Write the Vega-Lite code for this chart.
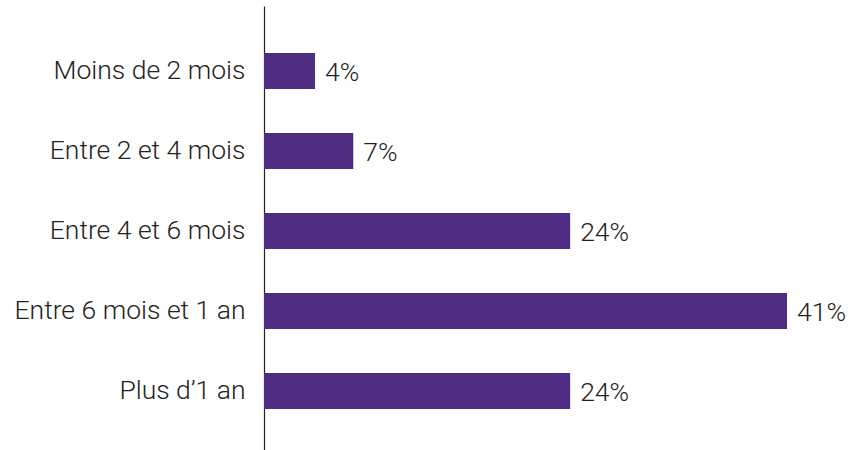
{
  "$schema": "https://vega.github.io/schema/vega-lite/v6.json",
  "width": 523,
  "height": 450,
  "autosize": {"type": "none"},
  "padding": {"left": 264, "top": 6, "right": 68, "bottom": 0},
  "background": "white",
  "config": {"view": {"stroke": null}, "font": "Roboto"},
  "data": {"values": [
    {"cat": "Moins de 2 mois", "value": 4, "label": "4%"},
    {"cat": "Entre 2 et 4 mois", "value": 7, "label": "7%"},
    {"cat": "Entre 4 et 6 mois", "value": 24, "label": "24%"},
    {"cat": "Entre 6 mois et 1 an", "value": 41, "label": "41%"},
    {"cat": "Plus d\u20191 an", "value": 24, "label": "24%"}
  ]},
  "encoding": {
    "y": {"field": "cat", "type": "nominal", "sort": null,
      "scale": {"paddingInner": 0.55, "paddingOuter": 0.5875},
      "axis": {"title": null, "ticks": false, "labelPadding": 19, "labelLimit": 0, "labelFontSize": 26.5, "labelFont": "Roboto", "labelFontWeight": 300, "labelColor": "#222222", "domainColor": "#222222", "domainWidth": 1.2}},
    "x": {"field": "value", "type": "quantitative", "scale": {"domain": [0, 41], "nice": false}, "axis": null}
  },
  "layer": [
    {"mark": {"type": "bar", "color": "#4e2d82"}},
    {"mark": {"type": "text", "align": "left", "baseline": "middle", "dx": 10, "dy": 2, "fontSize": 26.5, "font": "Roboto", "fontWeight": 300, "color": "#222222"},
      "encoding": {"text": {"field": "label"}}}
  ]
}
